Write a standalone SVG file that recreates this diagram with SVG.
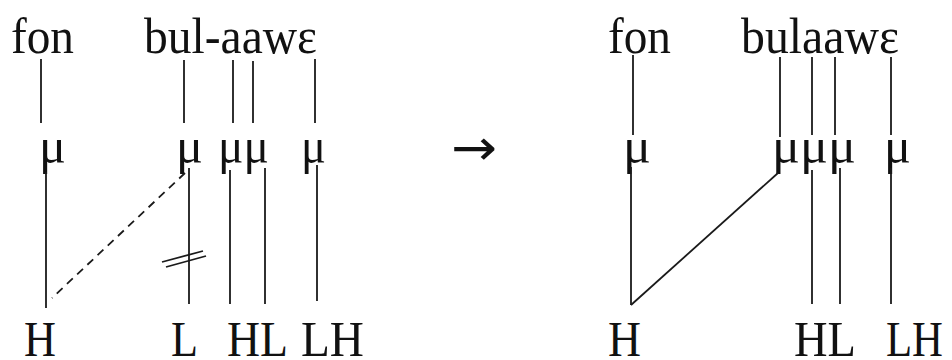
<svg xmlns="http://www.w3.org/2000/svg" width="952" height="360" viewBox="0 0 952 360">
<style>
.t{font-family:"Liberation Serif","Times New Roman",serif;font-size:50px;fill:#111}
.a{font-family:"DejaVu Sans",sans-serif;font-size:50px;fill:#111}
.l{stroke:#1a1a1a;stroke-width:1.8;fill:none;stroke-linecap:butt}
.d{stroke-dasharray:8 6}
</style>
<rect width="952" height="360" fill="#fff"/>
<g id="left-panel">
<g id="l-words">
<text class="t" x="11" y="53" textLength="63" lengthAdjust="spacingAndGlyphs">fon</text>
<text class="t" x="144" y="53" textLength="173" lengthAdjust="spacingAndGlyphs">bul-aawɛ</text>
</g>
<g id="l-moras">
<text class="t" x="39" y="163" textLength="27" lengthAdjust="spacingAndGlyphs">μ</text>
<text class="t" x="176" y="163" textLength="27" lengthAdjust="spacingAndGlyphs">μ</text>
<text class="t" x="218" y="163" textLength="51" lengthAdjust="spacingAndGlyphs">μμ</text>
<text class="t" x="301" y="163" textLength="25" lengthAdjust="spacingAndGlyphs">μ</text>
</g>
<g id="l-tones">
<text class="t" x="24" y="356" textLength="32" lengthAdjust="spacingAndGlyphs">H</text>
<text class="t" x="171" y="356" textLength="27" lengthAdjust="spacingAndGlyphs">L</text>
<text class="t" x="227" y="356" textLength="61" lengthAdjust="spacingAndGlyphs">HL</text>
<text class="t" x="301" y="356" textLength="63" lengthAdjust="spacingAndGlyphs">LH</text>
</g>
</g>
<g id="arrow">
<text class="a" x="451" y="165" textLength="46" lengthAdjust="spacingAndGlyphs">→</text>
</g>
<g id="right-panel">
<g id="r-words">
<text class="t" x="608" y="53" textLength="63" lengthAdjust="spacingAndGlyphs">fon</text>
<text class="t" x="741" y="53" textLength="158" lengthAdjust="spacingAndGlyphs">bulaawɛ</text>
</g>
<g id="r-moras">
<text class="t" x="623" y="163" textLength="28" lengthAdjust="spacingAndGlyphs">μ</text>
<text class="t" x="772" y="163" textLength="84" lengthAdjust="spacingAndGlyphs">μμμ</text>
<text class="t" x="884" y="163" textLength="27" lengthAdjust="spacingAndGlyphs">μ</text>
</g>
<g id="r-tones">
<text class="t" x="608" y="356" textLength="33" lengthAdjust="spacingAndGlyphs">H</text>
<text class="t" x="794" y="356" textLength="62" lengthAdjust="spacingAndGlyphs">HL</text>
<text class="t" x="886" y="356" textLength="57" lengthAdjust="spacingAndGlyphs">LH</text>
</g>
</g>
<g id="connectors">
<line class="l" x1="41" y1="59" x2="41" y2="123"/>
<line class="l" x1="184" y1="60" x2="184" y2="123"/>
<line class="l" x1="233" y1="60" x2="233" y2="123"/>
<line class="l" x1="253" y1="61" x2="253" y2="123"/>
<line class="l" x1="315" y1="59" x2="315" y2="123"/>
<line class="l" x1="46" y1="172" x2="46" y2="308"/>
<line class="l" x1="189" y1="168" x2="189" y2="304"/>
<line class="l" x1="230" y1="170" x2="230" y2="304"/>
<line class="l" x1="265" y1="168" x2="265" y2="304"/>
<line class="l" x1="317" y1="165" x2="317" y2="301"/>
<line class="l d" x1="185" y1="173" x2="52" y2="298"/>
<line class="l" x1="162" y1="262" x2="203" y2="251"/>
<line class="l" x1="166" y1="267" x2="206" y2="256"/>
<line class="l" x1="633" y1="55" x2="633" y2="135"/>
<line class="l" x1="780" y1="57" x2="780" y2="137"/>
<line class="l" x1="812" y1="57" x2="812" y2="135"/>
<line class="l" x1="835" y1="57" x2="835" y2="135"/>
<line class="l" x1="891" y1="57" x2="891" y2="135"/>
<line class="l" x1="631" y1="167" x2="631" y2="305"/>
<line class="l" x1="812" y1="170" x2="812" y2="304"/>
<line class="l" x1="840" y1="168" x2="840" y2="304"/>
<line class="l" x1="891" y1="168" x2="891" y2="304"/>
<line class="l" x1="631" y1="305" x2="778" y2="173"/>
</g>
</svg>
